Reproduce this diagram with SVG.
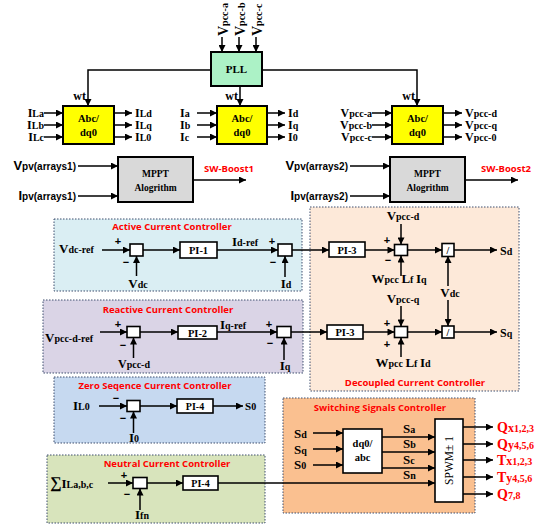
<svg xmlns="http://www.w3.org/2000/svg" width="550" height="529" viewBox="0 0 550 529">
<defs>
<marker id="ah" viewBox="0 0 10 10" refX="10" refY="5" markerWidth="9" markerHeight="7" markerUnits="userSpaceOnUse" orient="auto"><path d="M0,0 L10,5 L0,10 z" fill="#000"/></marker>
<style>
.s{font-family:"Liberation Serif","Times New Roman",serif;font-weight:bold;fill:#000}
.ss{font-family:"Liberation Sans",Arial,sans-serif;font-weight:bold;fill:#000}
.ttl{font-family:"Open Sans","Liberation Sans",sans-serif;font-weight:bold;font-size:9.5px;fill:#ff0000;text-anchor:middle}
.b{font-size:13px}
.m{font-size:12px}
.u{font-size:10px}
.mid{text-anchor:middle}
.end{text-anchor:end}
.blk{stroke:#000;stroke-width:2}
.wb{fill:#fff;stroke:#000;stroke-width:1.6}
.ln{stroke:#000;stroke-width:1.5;fill:none}
.ar{stroke:#000;stroke-width:1.5;fill:none;marker-end:url(#ah)}
.pan{stroke:#3f4f6f;stroke-width:1;stroke-dasharray:1.5 1.5}
.sign{font-family:"Liberation Sans",Arial,sans-serif;font-weight:bold;font-size:11px;fill:#000;text-anchor:middle}
.red{fill:#ff0000}
</style>
</defs>
<rect width="550" height="529" fill="#fff"/>

<!-- panels -->
<g id="panel-active"><rect class="pan" x="54" y="219" width="248" height="72" fill="#daeef3"/><text class="ttl" x="172" y="230">Active Current Controller</text></g>
<g id="panel-reactive"><rect class="pan" x="43" y="300" width="260" height="73" fill="#dad4e6"/><text class="ttl" x="168" y="313">Reactive Current Controller</text></g>
<g id="panel-zero"><rect class="pan" x="54" y="377" width="211" height="66" fill="#c6d9f0"/><text class="ttl" x="155" y="389">Zero Seqence Current Controller</text></g>
<g id="panel-neutral"><rect class="pan" x="47" y="455" width="218" height="68" fill="#d8e4bc"/><text class="ttl" x="167" y="467">Neutral Current Controller</text></g>
<g id="panel-decoupled"><rect class="pan" x="310" y="207" width="209" height="184" fill="#fde9d9"/><text class="ttl" x="415" y="386">Decoupled Current Controller</text></g>
<g id="panel-switching"><rect class="pan" x="283" y="398" width="192" height="115" fill="#fac090"/><text class="ttl" x="380" y="411">Switching Signals Controller</text></g>

<!-- connectors -->
<g id="connectors">
<line class="ar" x1="222" y1="37" x2="222" y2="52"/>
<line class="ar" x1="239" y1="37" x2="239" y2="52"/>
<line class="ar" x1="256" y1="37" x2="256" y2="52"/>
<polyline class="ar" points="211,70 88,70 88,106"/>
<polyline class="ar" points="262,70 417,70 417,106"/>
<line class="ar" x1="240" y1="86" x2="240" y2="106"/>
<line class="ar" x1="44" y1="113" x2="63" y2="113"/>
<line class="ar" x1="44" y1="125" x2="63" y2="125"/>
<line class="ar" x1="44" y1="137" x2="63" y2="137"/>
<line class="ar" x1="114" y1="113" x2="132" y2="113"/>
<line class="ar" x1="114" y1="125" x2="132" y2="125"/>
<line class="ar" x1="114" y1="137" x2="132" y2="137"/>
<line class="ar" x1="197" y1="113" x2="217" y2="113"/>
<line class="ar" x1="197" y1="125" x2="217" y2="125"/>
<line class="ar" x1="197" y1="137" x2="217" y2="137"/>
<line class="ar" x1="267" y1="113" x2="285" y2="113"/>
<line class="ar" x1="267" y1="125" x2="285" y2="125"/>
<line class="ar" x1="267" y1="137" x2="285" y2="137"/>
<line class="ar" x1="372" y1="113" x2="392" y2="113"/>
<line class="ar" x1="372" y1="125" x2="392" y2="125"/>
<line class="ar" x1="372" y1="137" x2="392" y2="137"/>
<line class="ar" x1="443" y1="113" x2="462" y2="113"/>
<line class="ar" x1="443" y1="125" x2="462" y2="125"/>
<line class="ar" x1="443" y1="137" x2="462" y2="137"/>
<line class="ar" x1="78" y1="166" x2="118" y2="166"/>
<line class="ar" x1="78" y1="196" x2="118" y2="196"/>
<line class="ar" x1="193" y1="180" x2="246" y2="180"/>
<line class="ar" x1="350" y1="166" x2="390" y2="166"/>
<line class="ar" x1="350" y1="196" x2="390" y2="196"/>
<line class="ar" x1="465" y1="180" x2="518" y2="180"/>
<!-- active -->
<line class="ar" x1="102" y1="250" x2="130" y2="250"/>
<line class="ar" x1="136.5" y1="276" x2="136.5" y2="256"/>
<line class="ar" x1="143" y1="250" x2="180" y2="250"/>
<line class="ar" x1="217" y1="250" x2="278" y2="250"/>
<line class="ar" x1="285" y1="277" x2="285" y2="256"/>
<line class="ar" x1="292" y1="250" x2="329" y2="250"/>
<!-- decoupled -->
<line class="ar" x1="365" y1="250" x2="394.5" y2="250"/>
<line class="ar" x1="401" y1="224" x2="401" y2="244.5"/>
<line class="ar" x1="401" y1="276" x2="401" y2="255.5"/>
<line class="ar" x1="407.5" y1="250" x2="442" y2="250"/>
<line class="ar" x1="454" y1="250" x2="497" y2="250"/>
<line class="ar" x1="448" y1="286" x2="448" y2="256"/>
<line class="ar" x1="448" y1="300" x2="448" y2="326"/>
<line class="ar" x1="363" y1="332" x2="394.5" y2="332"/>
<line class="ar" x1="401" y1="306" x2="401" y2="326.5"/>
<line class="ar" x1="401" y1="357" x2="401" y2="337.5"/>
<line class="ar" x1="407.5" y1="332" x2="442" y2="332"/>
<line class="ar" x1="454" y1="332" x2="497" y2="332"/>
<!-- reactive -->
<line class="ar" x1="100" y1="332" x2="127" y2="332"/>
<line class="ar" x1="133.5" y1="358" x2="133.5" y2="337.5"/>
<line class="ar" x1="140" y1="332" x2="178" y2="332"/>
<line class="ar" x1="217" y1="332" x2="277" y2="332"/>
<line class="ar" x1="284" y1="360" x2="284" y2="337.5"/>
<line class="ar" x1="291" y1="332" x2="327" y2="332"/>
<!-- zero -->
<line class="ar" x1="99" y1="406" x2="127" y2="406"/>
<line class="ar" x1="133.5" y1="433" x2="133.5" y2="411.5"/>
<line class="ar" x1="140" y1="406" x2="177" y2="406"/>
<line class="ar" x1="213" y1="406" x2="243" y2="406"/>
<!-- neutral -->
<line class="ar" x1="108" y1="483" x2="133" y2="483"/>
<line class="ar" x1="140" y1="510" x2="140" y2="488.5"/>
<line class="ar" x1="147" y1="483" x2="183" y2="483"/>
<line class="ar" x1="218" y1="483" x2="435" y2="483"/>
<!-- switching -->
<line class="ar" x1="313" y1="433" x2="343" y2="433"/>
<line class="ar" x1="313" y1="449" x2="343" y2="449"/>
<line class="ar" x1="313" y1="465" x2="343" y2="465"/>
<line class="ar" x1="382" y1="437" x2="435" y2="437"/>
<line class="ar" x1="382" y1="452" x2="435" y2="452"/>
<line class="ar" x1="382" y1="468" x2="435" y2="468"/>
<line class="ar" x1="463" y1="427" x2="493" y2="427"/>
<line class="ar" x1="463" y1="444" x2="493" y2="444"/>
<line class="ar" x1="463" y1="460" x2="493" y2="460"/>
<line class="ar" x1="463" y1="477" x2="493" y2="477"/>
<line class="ar" x1="463" y1="494" x2="493" y2="494"/>
</g>

<!-- PLL -->
<g id="pll">
<rect class="blk" x="211" y="52" width="51" height="34" fill="#acf2c6"/>
<text class="s mid" x="236.5" y="73" font-size="11">PLL</text>
<text class="s" transform="translate(228,36) rotate(-90)"><tspan font-size="14px">V</tspan><tspan class="u">pcc-a</tspan></text>
<text class="s" transform="translate(245,36) rotate(-90)"><tspan font-size="14px">V</tspan><tspan class="u">pcc-b</tspan></text>
<text class="s" transform="translate(262,36) rotate(-90)"><tspan font-size="14px">V</tspan><tspan class="u">pcc-c</tspan></text>
</g>

<!-- abc/dq0 blocks -->
<g id="abc1">
<rect class="blk" x="63" y="106" width="51" height="38" fill="#ffff00"/>
<text class="s mid" x="88.5" y="122" font-size="10.5">Abc/</text>
<text class="s mid" x="88.5" y="136" font-size="10.5">dq0</text>
<text class="s m end" x="86" y="100">wt</text>
<text class="s end" x="44" y="117"><tspan class="m">I</tspan><tspan class="u">La</tspan></text>
<text class="s end" x="44" y="129"><tspan class="m">I</tspan><tspan class="u">Lb</tspan></text>
<text class="s end" x="44" y="141"><tspan class="m">I</tspan><tspan class="u">Lc</tspan></text>
<text class="s" x="135" y="117"><tspan class="m">I</tspan><tspan class="u">Ld</tspan></text>
<text class="s" x="135" y="129"><tspan class="m">I</tspan><tspan class="u">Lq</tspan></text>
<text class="s" x="135" y="141"><tspan class="m">I</tspan><tspan class="u">L0</tspan></text>
</g>
<g id="abc2">
<rect class="blk" x="217" y="106" width="50" height="38" fill="#ffff00"/>
<text class="s mid" x="242" y="122" font-size="10.5">Abc/</text>
<text class="s mid" x="242" y="136" font-size="10.5">dq0</text>
<text class="s m end" x="238" y="100">wt</text>
<text class="s" x="180" y="117"><tspan class="m">I</tspan><tspan class="u">a</tspan></text>
<text class="s" x="180" y="129"><tspan class="m">I</tspan><tspan class="u">b</tspan></text>
<text class="s" x="180" y="141"><tspan class="m">I</tspan><tspan class="u">c</tspan></text>
<text class="s" x="288" y="117"><tspan class="m">I</tspan><tspan class="u">d</tspan></text>
<text class="s" x="288" y="129"><tspan class="m">I</tspan><tspan class="u">q</tspan></text>
<text class="s" x="288" y="141"><tspan class="m">I</tspan><tspan class="u">0</tspan></text>
</g>
<g id="abc3">
<rect class="blk" x="392" y="106" width="51" height="38" fill="#ffff00"/>
<text class="s mid" x="417.5" y="122" font-size="10.5">Abc/</text>
<text class="s mid" x="417.5" y="136" font-size="10.5">dq0</text>
<text class="s m end" x="415" y="100">wt</text>
<text class="s end" x="372" y="117"><tspan class="m">V</tspan><tspan class="u">pcc-a</tspan></text>
<text class="s end" x="372" y="129"><tspan class="m">V</tspan><tspan class="u">pcc-b</tspan></text>
<text class="s end" x="372" y="141"><tspan class="m">V</tspan><tspan class="u">pcc-c</tspan></text>
<text class="s" x="465" y="117"><tspan class="m">V</tspan><tspan class="u">pcc-d</tspan></text>
<text class="s" x="465" y="129"><tspan class="m">V</tspan><tspan class="u">pcc-q</tspan></text>
<text class="s" x="465" y="141"><tspan class="m">V</tspan><tspan class="u">pcc-0</tspan></text>
</g>

<!-- MPPT -->
<g id="mppt1">
<rect class="blk" x="118" y="157" width="75" height="45" fill="#d9d9d9"/>
<text class="s mid" x="155.5" y="177" font-size="9.5">MPPT</text>
<text class="s mid" x="155.5" y="191" font-size="9.5">Alogrithm</text>
<text class="ss end" x="76" y="170"><tspan font-size="13px">V</tspan><tspan class="u">pv(arrays1)</tspan></text>
<text class="ss end" x="76" y="200"><tspan font-size="13px">I</tspan><tspan class="u">pv(arrays1)</tspan></text>
<text class="ttl" x="229" y="172" font-size="9.5">SW-Boost1</text>
</g>
<g id="mppt2">
<rect class="blk" x="390" y="157" width="75" height="45" fill="#d9d9d9"/>
<text class="s mid" x="427.5" y="177" font-size="9.5">MPPT</text>
<text class="s mid" x="427.5" y="191" font-size="9.5">Alogrithm</text>
<text class="ss end" x="348" y="170"><tspan font-size="13px">V</tspan><tspan class="u">pv(arrays2)</tspan></text>
<text class="ss end" x="348" y="200"><tspan font-size="13px">I</tspan><tspan class="u">pv(arrays2)</tspan></text>
<text class="ttl" x="506" y="172" font-size="9.5">SW-Boost2</text>
</g>

<!-- Active current controller -->
<g id="active">
<text class="s" x="59" y="253"><tspan class="b">V</tspan><tspan class="u">dc-ref</tspan></text>
<rect class="wb" x="130" y="244" width="13" height="12"/>
<text class="sign" x="118" y="245">+</text>
<text class="sign" x="126" y="266">−</text>
<text class="s mid" x="138" y="288"><tspan class="b">V</tspan><tspan class="u">dc</tspan></text>
<rect class="wb" x="180" y="242" width="37" height="16"/>
<text class="s mid" x="198.5" y="254" font-size="10.5">PI-1</text>
<text class="s" x="232" y="246"><tspan class="b">I</tspan><tspan class="u">d-ref</tspan></text>
<text class="sign" x="272" y="245">+</text>
<text class="sign" x="273" y="266">−</text>
<rect class="wb" x="278" y="244" width="14" height="12"/>
<text class="s mid" x="286" y="288"><tspan class="b">I</tspan><tspan class="u">d</tspan></text>
</g>

<!-- Reactive current controller -->
<g id="reactive">
<text class="s" x="45" y="342"><tspan class="b">V</tspan><tspan class="u">pcc-d-ref</tspan></text>
<rect class="wb" x="127" y="326.5" width="13" height="11"/>
<text class="sign" x="118" y="328">+</text>
<text class="sign" x="123" y="349">−</text>
<text class="s mid" x="134" y="368"><tspan font-size="12px">V</tspan><tspan class="u">pcc-d</tspan></text>
<rect class="wb" x="178" y="326" width="39" height="13"/>
<text class="s mid" x="197.5" y="336.5" font-size="10.5">PI-2</text>
<text class="s" x="220" y="329"><tspan class="b">I</tspan><tspan class="u">q-ref</tspan></text>
<text class="sign" x="269" y="328">+</text>
<text class="sign" x="270" y="347">−</text>
<rect class="wb" x="277" y="326.5" width="14" height="11"/>
<text class="s mid" x="285" y="370"><tspan class="b">I</tspan><tspan class="u">q</tspan></text>
</g>

<!-- Decoupled current controller -->
<g id="decoupled">
<rect class="wb" x="329" y="242" width="36" height="15"/>
<text class="s mid" x="347" y="253.5" font-size="10.5">PI-3</text>
<text class="s mid" x="403" y="220"><tspan class="b">V</tspan><tspan class="u">pcc-d</tspan></text>
<rect class="wb" x="394.5" y="244.5" width="13" height="11"/>
<text class="sign" x="387" y="244">+</text>
<text class="sign" x="388" y="264">−</text>
<text class="s mid" x="399" y="283"><tspan class="b">W</tspan><tspan class="u">pcc </tspan><tspan class="b">L</tspan><tspan class="u">f </tspan><tspan class="b">I</tspan><tspan class="u">q</tspan></text>
<rect class="wb" x="442" y="243.5" width="12" height="13"/>
<text class="s mid" x="448" y="254" font-size="10">/</text>
<text class="s" x="500" y="255"><tspan class="m">S</tspan><tspan class="u">d</tspan></text>
<text class="s mid" x="450" y="297"><tspan class="b">V</tspan><tspan class="u">dc</tspan></text>
<rect class="wb" x="327" y="325" width="36" height="14"/>
<text class="s mid" x="345" y="336" font-size="10.5">PI-3</text>
<text class="s mid" x="403" y="303"><tspan class="b">V</tspan><tspan class="u">pcc-q</tspan></text>
<rect class="wb" x="394.5" y="326.5" width="13" height="11"/>
<text class="sign" x="387" y="327">+</text>
<text class="sign" x="387" y="348">+</text>
<text class="s mid" x="403" y="367"><tspan class="b">W</tspan><tspan class="u">pcc </tspan><tspan class="b">L</tspan><tspan class="u">f </tspan><tspan class="b">I</tspan><tspan class="u">d</tspan></text>
<rect class="wb" x="442" y="326" width="12" height="12"/>
<text class="s mid" x="448" y="336" font-size="10">/</text>
<text class="s" x="500" y="337"><tspan class="m">S</tspan><tspan class="u">q</tspan></text>
</g>

<!-- Zero sequence current controller -->
<g id="zero">
<text class="s" x="73" y="410"><tspan class="b">I</tspan><tspan class="u">L0</tspan></text>
<rect class="wb" x="127" y="400.5" width="13" height="11"/>
<text class="sign" x="116" y="402">−</text>
<text class="sign" x="123" y="422">−</text>
<text class="s mid" x="134" y="442"><tspan class="b">I</tspan><tspan class="u">0</tspan></text>
<rect class="wb" x="177" y="399" width="36" height="14"/>
<text class="s mid" x="195" y="410" font-size="10">PI-4</text>
<text class="s" x="245" y="410"><tspan font-size="11px">S</tspan><tspan class="u">0</tspan></text>
</g>

<!-- Neutral current controller -->
<g id="neutral">
<text class="s" x="50" y="488"><tspan font-size="16px">∑</tspan><tspan class="b">I</tspan><tspan class="u">La,b,c</tspan></text>
<rect class="wb" x="133" y="477.5" width="14" height="11"/>
<text class="sign" x="124" y="479">+</text>
<text class="sign" x="127" y="498">−</text>
<text class="s mid" x="142" y="519"><tspan class="b">I</tspan><tspan class="u">fn</tspan></text>
<rect class="wb" x="183" y="476" width="35" height="14"/>
<text class="s mid" x="200.5" y="487" font-size="10">PI-4</text>
</g>

<!-- Switching signals controller -->
<g id="switching">
<text class="s" x="294" y="438"><tspan class="b">S</tspan><tspan class="u">d</tspan></text>
<text class="s" x="294" y="454"><tspan class="b">S</tspan><tspan class="u">q</tspan></text>
<text class="s" x="294" y="469"><tspan class="b">S</tspan><tspan class="u">0</tspan></text>
<rect class="wb" x="343" y="429" width="39" height="44"/>
<text class="s mid" x="362.5" y="447" font-size="10.5">dq0/</text>
<text class="s mid" x="362.5" y="461" font-size="10.5">abc</text>
<text class="s" x="403" y="433"><tspan class="b">S</tspan><tspan class="u">a</tspan></text>
<text class="s" x="403" y="448"><tspan class="b">S</tspan><tspan class="u">b</tspan></text>
<text class="s" x="403" y="464"><tspan class="b">S</tspan><tspan class="u">c</tspan></text>
<text class="s" x="403" y="479"><tspan class="b">S</tspan><tspan class="u">n</tspan></text>
<rect class="wb" x="435" y="419" width="28" height="83"/>
<text transform="translate(453,460.5) rotate(-90)" text-anchor="middle" font-family="Liberation Serif, Times New Roman, serif" font-size="11.5" fill="#000">SPWM± 1</text>
<text class="s red" x="497" y="432"><tspan font-size="14px">Q</tspan><tspan class="m">x</tspan><tspan class="u">1,2,3</tspan></text>
<text class="s red" x="497" y="449"><tspan font-size="14px">Q</tspan><tspan class="m">y</tspan><tspan class="u">4,5,6</tspan></text>
<text class="s red" x="497" y="465"><tspan font-size="14px">T</tspan><tspan class="m">x</tspan><tspan class="u">1,2,3</tspan></text>
<text class="s red" x="497" y="482"><tspan font-size="14px">T</tspan><tspan class="m">y</tspan><tspan class="u">4,5,6</tspan></text>
<text class="s red" x="497" y="499"><tspan font-size="14px">Q</tspan><tspan class="u">7,8</tspan></text>
</g>
</svg>
